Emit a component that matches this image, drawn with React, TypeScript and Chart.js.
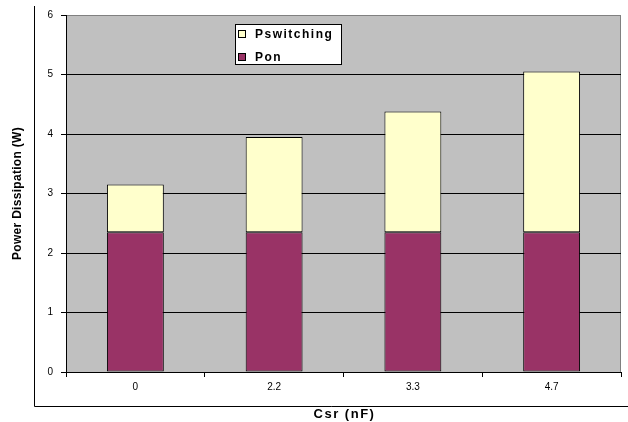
import React, { useEffect, useRef } from "react";
import { Chart, registerables } from "chart.js";

Chart.register(...registerables);

const categories = ["0", "2.2", "3.3", "4.7"];
const ponValues = [2.35, 2.35, 2.35, 2.35];
const pswitchingValues = [0.8, 1.6, 2.03, 2.7];
const yTicks = [0, 1, 2, 3, 4, 5, 6];
const xTitle = "Csr (nF)";
const yTitle = "Power Dissipation (W)";

const FONT = "'Liberation Sans', Arial, sans-serif";

const framePlugin = {
  id: "frame",
  beforeDraw(chart: any) {
    const { ctx, chartArea: a } = chart;
    ctx.save();
    ctx.fillStyle = "#ffffff";
    ctx.fillRect(0, 0, chart.width, chart.height);
    ctx.fillStyle = "#C0C0C0";
    ctx.fillRect(a.left, a.top, a.right - a.left, a.bottom - a.top);
    ctx.strokeStyle = "#808080";
    ctx.lineWidth = 1;
    ctx.beginPath();
    ctx.moveTo(a.left, a.top + 0.5);
    ctx.lineTo(a.right - 0.5, a.top + 0.5);
    ctx.lineTo(a.right - 0.5, a.bottom);
    ctx.stroke();
    ctx.strokeStyle = "#000000";
    ctx.beginPath();
    ctx.moveTo(34.5, 6);
    ctx.lineTo(34.5, 406.5);
    ctx.lineTo(chart.width, 406.5);
    ctx.stroke();
    ctx.restore();
  },
  afterDraw(chart: any) {
    const { ctx, chartArea: a } = chart;
    ctx.save();
    // axis titles
    ctx.fillStyle = "#000";
    ctx.textAlign = "center";
    ctx.textBaseline = "middle";
    ctx.font = `bold 13px ${FONT}`;
    (ctx as any).letterSpacing = "1.5px";
    ctx.fillText(xTitle, (a.left + a.right) / 2 + 1, 414);
    ctx.save();
    ctx.translate(18, (a.top + a.bottom) / 2);
    ctx.rotate(-Math.PI / 2);
    ctx.font = `bold 12px ${FONT}`;
    (ctx as any).letterSpacing = "0.3px";
    ctx.fillText(yTitle, 0, 0);
    ctx.restore();

    // legend
    const lx = 235.5, ly = 24.5, lw = 106, lh = 40;
    ctx.fillStyle = "#ffffff";
    ctx.fillRect(lx, ly, lw, lh);
    ctx.strokeStyle = "#000";
    ctx.lineWidth = 1;
    ctx.strokeRect(lx, ly, lw, lh);
    const ds = chart.data.datasets.slice().reverse();
    ctx.font = `bold 12px ${FONT}`;
    (ctx as any).letterSpacing = "1.5px";
    ctx.textAlign = "left";
    ctx.textBaseline = "middle";
    ds.forEach((d: any, i: number) => {
      const cy = 34 + i * 23;
      ctx.fillStyle = d.backgroundColor;
      ctx.fillRect(238.5, cy - 3.5, 7, 7);
      ctx.strokeStyle = "#000";
      ctx.strokeRect(238.5, cy - 3.5, 7, 7);
      ctx.fillStyle = "#000";
      ctx.fillText(d.label, 255, cy + 0.5);
    });
    ctx.restore();
  },
};

export default function App() {
  const ref = useRef<HTMLCanvasElement>(null);
  useEffect(() => {
    document.body.style.margin = "0";
    const chart = new Chart(ref.current as HTMLCanvasElement, {
      type: "bar",
      data: {
        labels: categories,
        datasets: [
          {
            label: "Pon",
            data: ponValues,
            backgroundColor: "#993366",
            borderColor: "#000000",
            borderWidth: 1,
            borderSkipped: false,
          },
          {
            label: "Pswitching",
            data: pswitchingValues,
            backgroundColor: "#FFFFCC",
            borderColor: "#000000",
            borderWidth: 1,
            borderSkipped: false,
          },
        ],
      },
      options: {
        responsive: false,
        animation: false,
        devicePixelRatio: 1,
        layout: { padding: { top: 15, right: 7, left: 0, bottom: 0 } },
        datasets: { bar: { categoryPercentage: 1, barPercentage: 0.41 } },
        plugins: { legend: { display: false }, tooltip: { enabled: false } },
        scales: {
          x: {
            stacked: true,
            offset: true,
            grid: {
              offset: true,
              drawOnChartArea: false,
              drawTicks: true,
              tickLength: 5,
              tickColor: "#000",
              color: "#000",
            },
            border: { color: "#000", width: 1 },
            ticks: { color: "#000", font: { family: FONT, size: 10 }, padding: 4 },
            afterFit: (s: any) => {
              s.height = 50;
            },
          },
          y: {
            stacked: true,
            min: 0,
            max: 6,
            afterBuildTicks: (s: any) => {
              s.ticks = yTicks.map((v) => ({ value: v }));
            },
            grid: {
              color: (c: any) => (c.tick && c.tick.value === 6 ? "#808080" : "#000"),
              tickColor: "#000",
              tickLength: 5,
              drawTicks: true,
            },
            border: { color: "#000", width: 1 },
            ticks: { color: "#000", font: { family: FONT, size: 10 }, padding: 8 },
            afterFit: (s: any) => {
              s.width = 66;
            },
          },
        },
      },
      plugins: [framePlugin],
    });
    return () => chart.destroy();
  }, []);
  return <canvas ref={ref} width={628} height={422} style={{ display: "block" }} />;
}
